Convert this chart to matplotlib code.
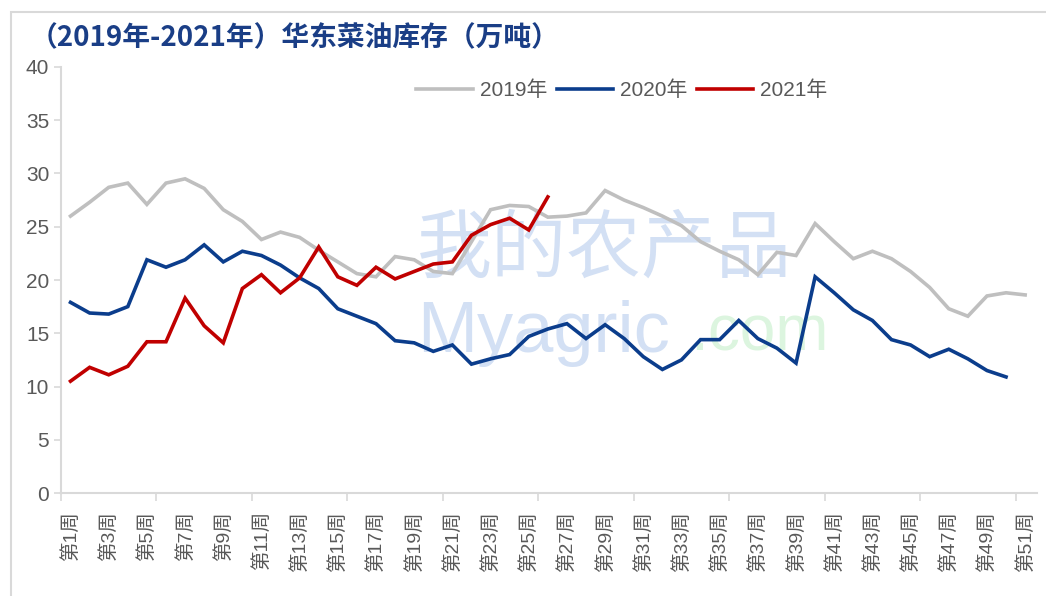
import matplotlib
matplotlib.use('Agg')
import matplotlib.pyplot as plt
from matplotlib.patches import Rectangle

plt.rcParams['font.family'] = ['Liberation Sans', 'Noto Sans CJK SC', 'DejaVu Sans']

# 数据 (万吨)
weeks = ['第%d周' % i for i in range(1, 52)]
y2019 = [26.0, 27.3, 28.7, 29.1, 27.1, 29.1, 29.5, 28.6, 26.6, 25.5,
         23.8, 24.5, 24.0, 22.8, 21.7, 20.6, 20.3, 22.2, 21.9, 20.8,
         20.6, 23.6, 26.6, 27.0, 26.9, 25.9, 26.0, 26.3, 28.4, 27.5,
         26.8, 26.0, 25.1, 23.6, 22.7, 21.9, 20.5, 22.6, 22.3, 25.3,
         23.6, 22.0, 22.7, 22.0, 20.8, 19.3, 17.3, 16.6, 18.5, 18.8,
         18.6]
y2020 = [17.9, 16.9, 16.8, 17.5, 21.9, 21.2, 21.9, 23.3, 21.7, 22.7,
         22.3, 21.4, 20.2, 19.2, 17.3, 16.6, 15.9, 14.3, 14.1, 13.3,
         13.9, 12.1, 12.6, 13.0, 14.7, 15.4, 15.9, 14.5, 15.8, 14.5,
         12.8, 11.6, 12.5, 14.4, 14.4, 16.2, 14.5, 13.6, 12.2, 20.3,
         18.8, 17.2, 16.2, 14.4, 13.9, 12.8, 13.5, 12.6, 11.5, 10.9]
y2021 = [10.5, 11.8, 11.1, 11.9, 14.2, 14.2, 18.3, 15.7, 14.1, 19.2,
         20.5, 18.8, 20.2, 23.1, 20.3, 19.5, 21.2, 20.1, 20.8, 21.5,
         21.7, 24.2, 25.2, 25.8, 24.7, 27.8]
series = [('2019年', y2019, '#bfbfbf'),
          ('2020年', y2020, '#0b3d8c'),
          ('2021年', y2021, '#c00000')]

fig = plt.figure(figsize=(10.46, 5.96), dpi=100)
ax = fig.add_axes([0.0583, 0.1728, 0.9327, 0.7148])

# 外框
fig.patches.append(Rectangle((11/1046, -0.1), 1.2, 1.1 - 12/596,
                             transform=fig.transFigure, fill=False,
                             edgecolor='#d9d9d9', lw=1.5))

# 水印
ax.text(0.365, 0.57, '我的农产品', transform=ax.transAxes, fontsize=54,
        color='#d3e0f4', family=['Noto Sans CJK SC'], va='center', zorder=0)
ax.text(0.365, 0.375, 'Myagric', transform=ax.transAxes, fontsize=52,
        color='#d3e0f4', family=['Liberation Sans'], va='center', zorder=0)
ax.text(0.645, 0.375, '.com', transform=ax.transAxes, fontsize=46,
        color='#dcf5df', family=['Liberation Sans'], va='center', zorder=0)

for name, vals, c in series:
    ax.plot(range(len(vals)), vals, color=c, lw=2.6, label=name,
            solid_joinstyle='miter', zorder=3)

ax.set_xlim(-0.5, 50.6)
ax.set_ylim(0, 40)
ax.set_yticks(range(0, 41, 5))
ax.tick_params(axis='y', colors='#d9d9d9', labelcolor='#595959',
               labelsize=15, length=5, width=1.2)

ax.set_xticks([i - 0.5 for i in range(0, 51, 5)])
ax.set_xticklabels([])
ax.tick_params(axis='x', which='major', colors='#d9d9d9', length=6, width=1.2)
ax.set_xticks(range(0, 51, 2), minor=True)
ax.set_xticklabels(weeks[::2], minor=True, rotation=90, va='top',
                   ha='center', fontsize=14, color='#595959')
ax.tick_params(axis='x', which='minor', length=0, pad=13)

for s in ['top', 'right']:
    ax.spines[s].set_visible(False)
for s in ['left', 'bottom']:
    ax.spines[s].set_color('#d9d9d9')
    ax.spines[s].set_linewidth(1.5)

leg = ax.legend(loc='upper center', bbox_to_anchor=(0.575, 1.012), ncol=3,
                frameon=False, fontsize=15, handlelength=2.7,
                columnspacing=0.45, handletextpad=0.35)
for t in leg.get_texts():
    t.set_color('#595959')

fig.text(30/1046, 1 - 38/596, '（2019年-2021年）华东菜油库存（万吨）',
         fontsize=20, color='#1a3e86', fontweight='bold', va='center',
         family=['Noto Sans CJK SC'])

fig.savefig('out.png', dpi=100)
